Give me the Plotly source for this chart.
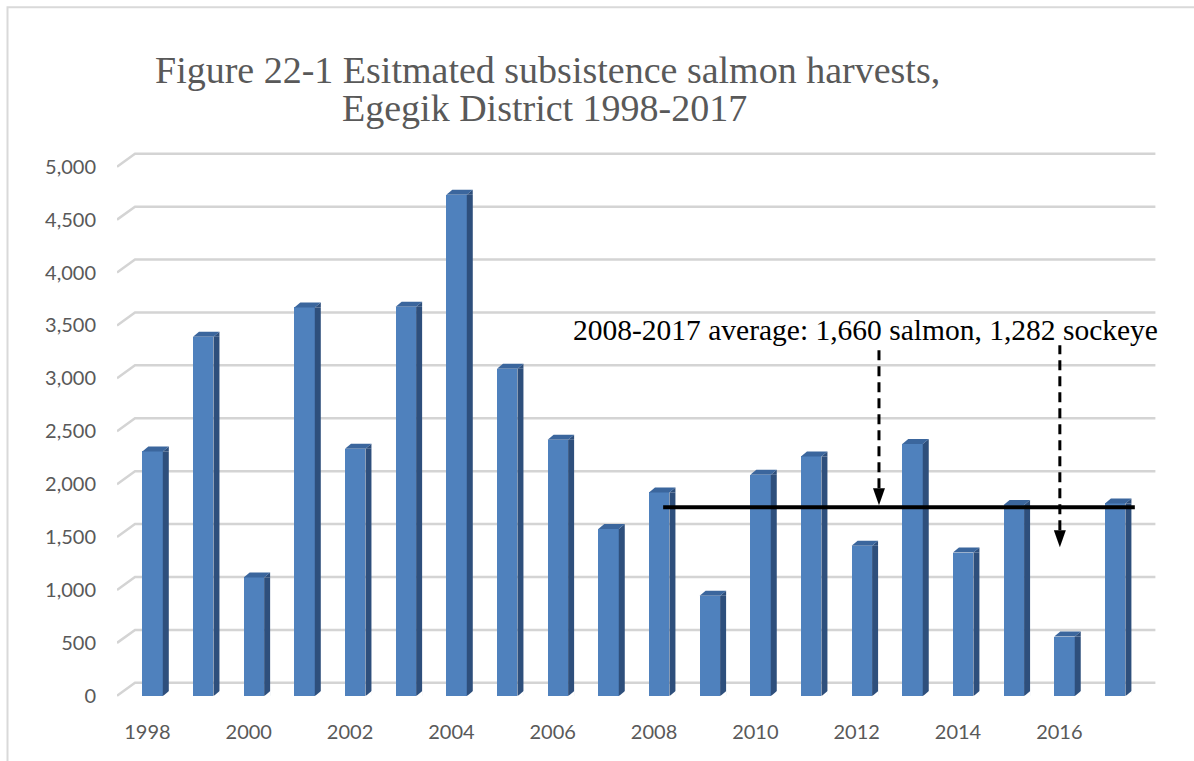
import plotly.graph_objects as go

# Estimated subsistence salmon harvests, Egegik District
years = list(range(1998, 2018))
harvest = [2309, 3393, 1118, 3670, 2335, 3677, 4735, 3090, 2420, 1576,
           1922, 945, 2089, 2262, 1418, 2379, 1354, 1802, 560, 1818]
avg_salmon = 1660     # 2008-2017 average, all salmon
avg_sockeye = 1282    # 2008-2017 average, sockeye
y_ticks = list(range(0, 5001, 500))
x_tick_years = list(range(1998, 2017, 2))

note_text = "2008-2017 average: 1,660 salmon, 1,282 sockeye"
title_1 = "Figure 22-1 Esitmated subsistence salmon harvests,"
title_2 = "Egegik District 1998-2017"

# ---- layout geometry (pixels) ----
W, H = 1194, 761
CAT = 50.7                    # pixels per category
X_MIN, X_MAX = -0.6, 20.5
L = 147 - (0 - X_MIN) * CAT
R = L + (X_MAX - X_MIN) * CAT
PX_PER_UNIT = 0.1058
ZERO_PX = 695.5
Y_MIN, Y_MAX = -210, 5300
B = ZERO_PX - Y_MIN * PX_PER_UNIT
T = ZERO_PX - Y_MAX * PX_PER_UNIT

BAR_W = 0.404                 # in category units
BAR_OFF = -0.1
DEPTH_X, DEPTH_Y = 6, 5       # bar depth (pixels)
WALL_X, WALL_Y = 18, 13       # back-wall offset (pixels)

FRONT = "#4f81bd"
SIDE = "#2e4f7c"
TOP = "#3b669d"
GRID = "#d4d4d4"
TXT = "#595959"


def px_x(p):
    return (p - L) / (R - L)


def px_y(p):
    return (B - p) / (B - T)


idx = list(range(len(years)))

fig = go.Figure()
fig.add_trace(go.Bar(
    x=idx, y=harvest, width=BAR_W, offset=BAR_OFF,
    marker=dict(color=FRONT, line=dict(width=0)),
    hoverinfo="x+y", showlegend=False,
))

shapes = []

# back-wall gridlines with the diagonal stub from the front plane
wall_len = 1155 - L
for v in y_ticks:
    shapes.append(dict(
        type="path", layer="below",
        xref="x", yref="y", xsizemode="pixel", ysizemode="pixel",
        xanchor=X_MIN, yanchor=v,
        path=f"M 0,0 L {WALL_X},{WALL_Y} L {wall_len:.1f},{WALL_Y}",
        line=dict(color=GRID, width=2.5),
    ))

# 3-D faces of each column
bar_px = BAR_W * CAT
for i, v in zip(idx, harvest):
    xl = i + BAR_OFF
    xr = xl + BAR_W
    # side face body
    shapes.append(dict(
        type="rect", xref="x", yref="y", xsizemode="pixel",
        xanchor=xr, x0=0, x1=DEPTH_X, y0=0, y1=v,
        fillcolor=SIDE, line=dict(width=0),
    ))
    # side face top wedge
    shapes.append(dict(
        type="path", xref="x", yref="y", xsizemode="pixel", ysizemode="pixel",
        xanchor=xr, yanchor=v,
        path=f"M 0,0 L {DEPTH_X},{DEPTH_Y} L {DEPTH_X},0 Z",
        fillcolor=SIDE, line=dict(width=0),
    ))
    # side face bottom cut
    shapes.append(dict(
        type="path", xref="x", yref="y", xsizemode="pixel", ysizemode="pixel",
        xanchor=xr, yanchor=0,
        path=f"M 0,-0.5 L {DEPTH_X + 0.5},-0.5 L {DEPTH_X + 0.5},{DEPTH_Y} Z",
        fillcolor="white", line=dict(width=0),
    ))
    # top face
    shapes.append(dict(
        type="path", xref="x", yref="y", xsizemode="pixel", ysizemode="pixel",
        xanchor=xl, yanchor=v,
        path=(f"M 0,0 L {DEPTH_X},{DEPTH_Y} L {bar_px + DEPTH_X:.1f},{DEPTH_Y} "
              f"L {bar_px:.1f},0 Z"),
        fillcolor=TOP, line=dict(width=0),
    ))

# average line (drawn on the back wall)
i08 = years.index(2008)
i17 = years.index(2017)
shapes.append(dict(
    type="line", xref="x", yref="y", ysizemode="pixel",
    x0=i08 + 0.18, x1=i17 + 0.49, yanchor=avg_salmon, y0=WALL_Y, y1=WALL_Y,
    line=dict(color="black", width=4),
))

# dashed arrows to the two averages
arrow_x = [14.44, 18.01]
arrow_target = [avg_salmon, avg_sockeye]
arrow_tip = [WALL_Y + 2, WALL_Y]
arrow_top = [170, 215]
HEAD_H, HEAD_W = 17, 6
for ax_, tv, tip, top in zip(arrow_x, arrow_target, arrow_tip, arrow_top):
    shapes.append(dict(
        type="line", xref="x", yref="y", ysizemode="pixel",
        x0=ax_, x1=ax_, yanchor=tv, y0=tip + HEAD_H, y1=top,
        line=dict(color="black", width=3, dash="10px,6px"),
    ))
    shapes.append(dict(
        type="path", xref="x", yref="y", xsizemode="pixel", ysizemode="pixel",
        xanchor=ax_, yanchor=tv,
        path=f"M {-HEAD_W},{tip + HEAD_H} L {HEAD_W},{tip + HEAD_H} L 0,{tip} Z",
        fillcolor="black", line=dict(width=0),
    ))

# chart frame
shapes.append(dict(
    type="rect", xref="paper", yref="paper",
    x0=px_x(7), x1=px_x(W + 20), y0=px_y(7), y1=px_y(H + 20),
    line=dict(color="#d9d9d9", width=2), fillcolor="rgba(0,0,0,0)",
))

annotations = [
    dict(text=title_1, xref="paper", yref="paper", x=px_x(154), y=px_y(70),
         xanchor="left", yanchor="middle", showarrow=False, borderpad=0,
         font=dict(family="Liberation Serif", size=38, color=TXT)),
    dict(text=title_2, xref="paper", yref="paper", x=px_x(341), y=px_y(108),
         xanchor="left", yanchor="middle", showarrow=False, borderpad=0,
         font=dict(family="Liberation Serif", size=38, color=TXT)),
    dict(text=note_text, xref="paper", yref="paper", x=px_x(866), y=px_y(330),
         xanchor="center", yanchor="middle", showarrow=False,
         font=dict(family="Liberation Serif", size=29.5, color="black")),
]

fig.update_layout(
    width=W, height=H,
    margin=dict(l=L, r=W - R, t=T, b=H - B, pad=0),
    paper_bgcolor="white", plot_bgcolor="white",
    shapes=shapes, annotations=annotations,
    bargap=0, showlegend=False,
    xaxis=dict(
        range=[X_MIN, X_MAX], showgrid=False, zeroline=False, showline=False,
        tickvals=[years.index(y) for y in x_tick_years],
        ticktext=[str(y) for y in x_tick_years],
        ticks="", tickfont=dict(family="Lato", size=20, color=TXT),
    ),
    yaxis=dict(
        range=[Y_MIN, Y_MAX], showgrid=False, zeroline=False, showline=False,
        tickvals=y_ticks, tickformat=",d", ticks="",
        ticklabelstandoff=20,
        tickfont=dict(family="Lato", size=20, color=TXT),
    ),
)

fig.write_html("out.html")
